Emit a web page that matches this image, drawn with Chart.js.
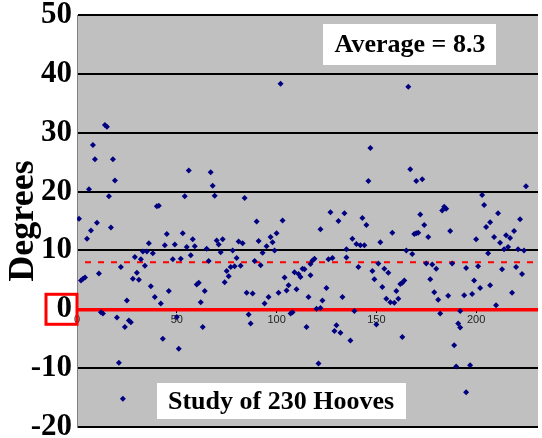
<!DOCTYPE html>
<html lang="en">
<head>
<meta charset="UTF-8">
<title>Study of 230 Hooves</title>
<script src="https://cdn.jsdelivr.net/npm/chart.js@4.4.1/dist/chart.umd.min.js"></script>
<style>
  html,body{margin:0;padding:0;background:#fff;}
  #wrap{width:542px;height:438px;}
</style>
</head>
<body>
<div id="wrap"><canvas id="hooves"></canvas></div>
<script>
var hoofNo = [1,2,3,4,5,6,7,8,9,10,11,12,13,14,15,16,17,18,19,20,
  21,22,23,24,25,26,27,28,29,30,31,32,33,34,35,36,37,38,39,40,
  41,42,43,44,45,46,48,49,50,51,52,53,54,55,56,57,58,59,60,61,
  62,63,64,65,66,67,68,69,70,71,72,73,74,75,76,77,78,79,80,81,
  82,83,84,85,86,87,88,89,90,91,92,93,94,95,96,97,98,99,100,101,
  102,103,104,105,106,107,108,109,110,111,112,113,114,115,116,117,117,118,119,120,
  121,122,122,123,125,126,127,128,129,130,131,132,133,134,135,135,137,138,139,140,
  141,142,143,144,145,146,147,148,149,150,151,152,153,154,155,156,157,158,159,160,
  161,162,163,163,164,165,166,167,168,169,170,170,171,172,173,174,175,176,177,178,
  179,180,181,182,183,184,185,186,187,188,189,190,191,192,192,194,195,195,197,198,
  199,200,201,202,203,204,205,206,207,207,209,210,211,212,213,214,215,216,217,218,
  219,220,221,222,223,224,225];
var angle = [15.4,4.9,5.2,5.4,12.0,20.4,13.4,27.9,25.5,14.7,6.1,-0.5,-0.7,31.3,31.0,19.2,13.9,25.5,21.9,-1.4,
  -9.1,7.2,-15.2,-3.0,1.5,-1.9,-2.2,5.2,8.9,6.2,5.0,8.5,9.8,7.4,9.8,11.2,3.9,9.5,2.1,17.5,
  17.6,1.0,-5.0,10.9,12.8,3.1,8.5,11.0,-1.3,-6.7,8.6,12.9,19.2,10.6,23.6,9.2,11.9,10.7,4.2,4.5,
  1.2,-3.0,3.1,10.3,8.2,23.3,21.0,19.3,11.7,11.0,9.7,11.9,4.6,6.5,5.6,7.2,10.0,7.3,8.7,11.5,
  7.4,11.2,18.9,2.8,-0.9,-2.4,2.7,8.2,14.9,11.6,7.5,9.6,1.0,10.7,2.1,12.3,11.4,10.0,12.9,2.8,
  38.3,15.1,5.4,3.2,4.1,-0.7,-0.5,6.3,3.4,6.0,5.5,6.9,6.8,-3.0,2.1,7.7,5.8,8.3,8.6,0.1,
  -9.2,0.2,13.6,1.5,3.6,8.5,16.5,8.7,-3.7,-2.7,15.0,-4.0,2.1,16.3,10.2,8.8,-5.3,12.0,-0.3,11.1,
  7.2,10.9,15.5,10.9,14.3,21.8,27.4,6.5,5.1,-2.6,7.8,11.4,3.8,6.9,1.8,6.2,1.2,13.0,1.1,3.1,
  1.8,4.3,4.5,-4.7,4.9,10.0,37.8,23.8,9.4,12.8,21.8,12.9,13.0,16.1,22.1,14.3,7.8,12.3,5.1,7.6,
  2.9,6.9,1.6,-0.7,16.8,17.4,17.1,2.3,13.3,7.8,-6.1,-9.7,-2.4,-0.3,-3.1,2.4,7.0,-14.1,-9.5,2.6,
  4.9,11.9,7.3,3.6,19.4,17.7,14.0,9.5,14.8,4.1,12.3,0.7,16.3,11.3,6.8,10.2,12.6,10.6,12.1,2.8,
  13.3,7.2,10.2,15.3,6.0,10.0,20.9];

var yTicks = [-20,-10,0,10,20,30,40,50];
var xTicks = [0,50,100,150,200];
var avgLine = 8;
var avgText = 'Average = 8.3';
var studyText = 'Study of 230 Hooves';

var serif = '"Liberation Serif", "Times New Roman", serif';

var plotBg = {
  id: 'plotBg',
  beforeDraw: function(chart){
    var a = chart.chartArea, c = chart.ctx;
    c.save();
    c.fillStyle = '#c0c0c0';
    c.fillRect(a.left, a.top, a.right - a.left, a.bottom - a.top);
    c.restore();
  }
};

var avgDash = {
  id: 'avgDash',
  beforeDatasetsDraw: function(chart){
    var a = chart.chartArea, c = chart.ctx;
    var y = chart.scales.y.getPixelForValue(avgLine);
    c.save();
    c.strokeStyle = '#ff0000';
    c.lineWidth = 2;
    c.setLineDash([6, 7]);
    c.beginPath();
    c.moveTo(a.left + 8, y);
    c.lineTo(a.right, y);
    c.stroke();
    c.restore();
  }
};

var notes = {
  id: 'notes',
  afterDraw: function(chart){
    var c = chart.ctx, ys = chart.scales.y;
    c.save();
    // text boxes
    c.fillStyle = '#ffffff';
    c.fillRect(323, 24, 173, 41);
    c.fillRect(157, 383, 249, 36);
    c.fillStyle = '#000';
    c.font = 'bold 26px ' + serif;
    c.textAlign = 'center';
    c.textBaseline = 'middle';
    c.fillText(avgText, 410, 45);
    c.fillText(studyText, 281, 402);
    // red box round the zero label
    var y0 = ys.getPixelForValue(0);
    c.strokeStyle = '#ff0000';
    c.lineWidth = 3;
    c.strokeRect(46, y0 - 15, 31, 30);
    c.restore();
  }
};

new Chart(document.getElementById('hooves'), {
  type: 'scatter',
  data: {
    datasets: [{
      label: 'Hooves',
      data: hoofNo.map(function(x, i){ return {x: x, y: angle[i]}; }),
      pointStyle: 'rectRot',
      pointRadius: 3,
      backgroundColor: '#000080',
      borderColor: '#000080',
      borderWidth: 0
    }]
  },
  options: {
    responsive: true,
    maintainAspectRatio: false,
    animation: false,
    layout: { padding: 0 },
    plugins: {
      legend: { display: false },
      tooltip: { enabled: false }
    },
    scales: {
      x: {
        type: 'linear',
        position: { y: 0 },
        min: 0,
        max: 231,
        afterBuildTicks: function(s){ s.ticks = xTicks.map(function(v){ return {value: v}; }); },
        grid: { drawOnChartArea: false, drawTicks: true, tickLength: 4, color: '#000', lineWidth: 1 },
        border: { display: false },
        ticks: { font: { family: 'Arial, "Liberation Sans", sans-serif', size: 11 }, color: '#222', padding: 0 }
      },
      y: {
        min: -20,
        max: 50,
        afterBuildTicks: function(s){ s.ticks = yTicks.map(function(v){ return {value: v}; }); },
        afterFit: function(s){
          s.width = 77;
          s.paddingTop = 15;
          s.paddingBottom = 11;
        },
        grid: {
          drawTicks: false,
          color: function(ctx){ return ctx.tick && ctx.tick.value === 0 ? '#ff0000' : '#000'; },
          lineWidth: function(ctx){ return ctx.tick && ctx.tick.value === 0 ? 3.5 : 2; }
        },
        border: { display: true, color: '#808080', width: 1 },
        ticks: { font: { family: serif, size: 31, weight: 'bold' }, color: '#000', padding: 5 },
        title: {
          display: true,
          text: 'Degrees',
          color: '#000',
          font: { family: serif, size: 36, weight: 'bold' },
          padding: { top: 2, bottom: 0 }
        }
      }
    }
  },
  plugins: [plotBg, avgDash, notes]
});
</script>
</body>
</html>
